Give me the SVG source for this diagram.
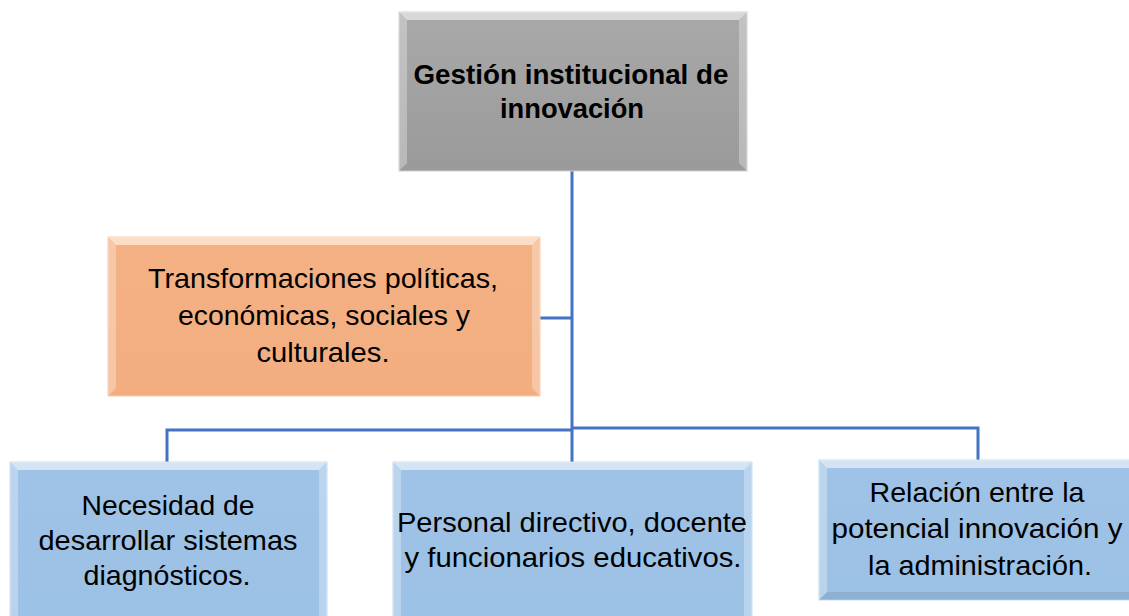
<svg xmlns="http://www.w3.org/2000/svg" width="1129" height="616" viewBox="0 0 1129 616">
<defs>
<linearGradient id="gGray" x1="0" y1="0" x2="0" y2="1"><stop offset="0" stop-color="#a9a9a9"/><stop offset="1" stop-color="#9a9a9a"/></linearGradient>
<linearGradient id="gOr" x1="0" y1="0" x2="0" y2="1"><stop offset="0" stop-color="#f4b183"/><stop offset="1" stop-color="#f2ae80"/></linearGradient>
<linearGradient id="gBl" x1="0" y1="0" x2="0" y2="1"><stop offset="0" stop-color="#9fc3e6"/><stop offset="1" stop-color="#9bc1e5"/></linearGradient>
</defs>
<style>
.t{font-family:"Liberation Sans","Open Sans",sans-serif;fill:#000;text-anchor:middle}
.b{font-weight:bold;font-size:28px}
.r{font-size:28.5px}
.conn{stroke:#4472c4;stroke-width:3;fill:none}
.hl{opacity:0.55;fill:#fff}
.hl2{opacity:0.3;fill:#fff}
.sh{opacity:0.08;fill:#000}
</style>
<rect width="1129" height="616" fill="#fff"/>
<g id="connectors">
<path class="conn" d="M572,171 V430"/>
<path class="conn" d="M540,318 H572"/>
<path class="conn" d="M167,462 V430 H572 M572,430 V462 M572,428 H978 V460"/>
</g>
<g id="n-top">
<rect x="399" y="12" width="348" height="159" fill="url(#gGray)" stroke="#d0d0d0" stroke-width="1"/>
<polygon class="hl" points="399,12 747,12 739,20 407,20"/>
<polygon class="hl2" points="399,12 407,20 407,163 399,171"/>
<polygon class="hl2" points="747,12 739,20 739,163 747,171"/>
<text class="t b" x="571" y="84" textLength="315" lengthAdjust="spacingAndGlyphs">Gestión institucional de</text>
<text class="t b" x="572" y="118" textLength="144" lengthAdjust="spacingAndGlyphs">innovación</text>
</g>
<g id="n-orange">
<rect x="108" y="237" width="432" height="159" fill="url(#gOr)" stroke="#f8cbad" stroke-width="1"/>
<polygon class="hl" points="108,237 540,237 532,245 116,245"/>
<polygon class="hl2" points="108,237 116,245 116,388 108,396"/>
<polygon class="hl2" points="540,237 532,245 532,388 540,396"/>
<text class="t r" x="323" y="288" textLength="350" lengthAdjust="spacingAndGlyphs">Transformaciones políticas,</text>
<text class="t r" x="324" y="325" textLength="292" lengthAdjust="spacingAndGlyphs">económicas, sociales y</text>
<text class="t r" x="323" y="362" textLength="133" lengthAdjust="spacingAndGlyphs">culturales.</text>
</g>
<g id="n-left">
<rect x="10" y="462" width="317" height="160" fill="url(#gBl)" stroke="#c5dcf1" stroke-width="1"/>
<polygon class="hl" points="10,462 327,462 319,470 18,470"/>
<polygon class="hl2" points="10,462 18,470 18,622 10,622"/>
<polygon class="hl2" points="327,462 319,470 319,622 327,622"/>
<text class="t r" x="168" y="515" textLength="173" lengthAdjust="spacingAndGlyphs">Necesidad de</text>
<text class="t r" x="168" y="550" textLength="259" lengthAdjust="spacingAndGlyphs">desarrollar sistemas</text>
<text class="t r" x="167" y="585" textLength="167" lengthAdjust="spacingAndGlyphs">diagnósticos.</text>
</g>
<g id="n-mid">
<rect x="393" y="462" width="359" height="160" fill="url(#gBl)" stroke="#c5dcf1" stroke-width="1"/>
<polygon class="hl" points="393,462 752,462 744,470 401,470"/>
<polygon class="hl2" points="393,462 401,470 401,622 393,622"/>
<polygon class="hl2" points="752,462 744,470 744,622 752,622"/>
<text class="t r" x="572" y="532" textLength="350" lengthAdjust="spacingAndGlyphs">Personal directivo, docente</text>
<text class="t r" x="573" y="567" textLength="337" lengthAdjust="spacingAndGlyphs">y funcionarios educativos.</text>
</g>
<g id="n-right">
<rect x="819" y="460" width="318" height="140" fill="url(#gBl)" stroke="#c5dcf1" stroke-width="1"/>
<polygon class="hl" points="819,460 1137,460 1129,468 827,468"/>
<polygon class="hl2" points="819,460 827,468 827,592 819,600"/>
<polygon class="sh" points="819,600 827,592 1137,592 1137,600"/>
<text class="t r" x="977" y="502" textLength="215" lengthAdjust="spacingAndGlyphs">Relación entre la</text>
<text class="t r" x="977" y="538" textLength="291" lengthAdjust="spacingAndGlyphs">potencial innovación y</text>
<text class="t r" x="980" y="575" textLength="224" lengthAdjust="spacingAndGlyphs">la administración.</text>
</g>
</svg>
